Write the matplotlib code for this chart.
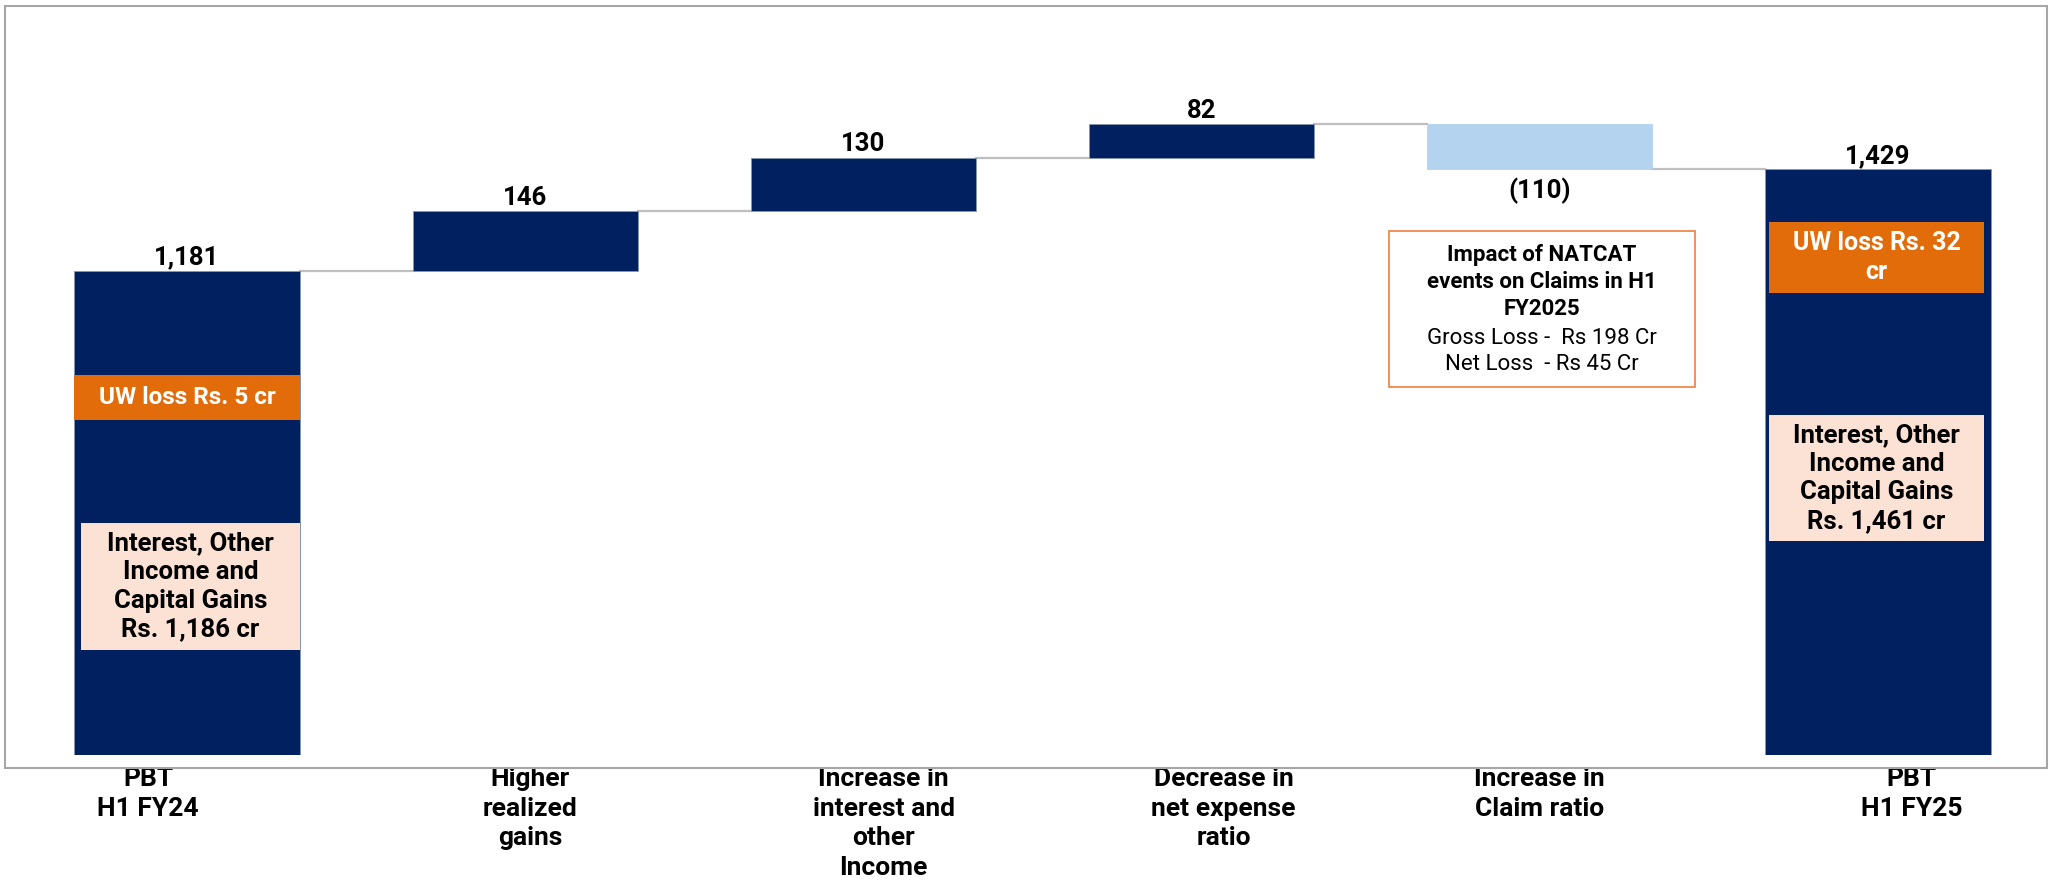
import matplotlib.pyplot as plt
from matplotlib.patches import Rectangle

plt.rcParams['font.family'] = ['Roboto', 'DejaVu Sans']

# data
categories = ["PBT\nH1 FY24", "Higher\nrealized\ngains", "Increase in\ninterest and\nother\nIncome",
              "Decrease in\nnet expense\nratio", "Increase in\nClaim ratio", "PBT\nH1 FY25"]
values = [1181, 146, 130, 82, -110, 1429]
is_total = [True, False, False, False, False, True]

uw_loss = ["UW loss Rs. 5 cr", "UW loss Rs. 32\ncr"]
income_note = ["Interest, Other\nIncome and\nCapital Gains\nRs. 1,186 cr",
               "Interest, Other\nIncome and\nCapital Gains\nRs. 1,461 cr"]
natcat_title = "Impact of NATCAT\nevents on Claims in H1\nFY2025"
natcat_body = "Gross Loss -  Rs 198 Cr\nNet Loss  - Rs 45 Cr"

NAVY = "#002060"
LIGHT = "#B3D3EE"
ORANGE = "#E36C0A"
PEACH = "#FBE2D5"
GREY = "#BFBFBF"
HEAVY = "bold"

fig = plt.figure(figsize=(20.51, 8.88), dpi=100)
ax = fig.add_axes([18 / 2051, 133 / 888, 2029 / 2051, 738 / 888])

w = 0.666
bottoms, tops = [], []
run = 0
for v, tot in zip(values, is_total):
    if tot:
        b, t = 0, v
        run = v
    else:
        b, t = (run, run + v) if v > 0 else (run + v, run)
        run += v
    bottoms.append(b)
    tops.append(t)

for i, v in enumerate(values):
    col = LIGHT if v < 0 else NAVY
    ax.bar(i, tops[i] - bottoms[i], bottom=bottoms[i], width=w, color=col,
           edgecolor="#8497B0" if v > 0 else LIGHT, linewidth=0.6, zorder=2)
    if v < 0:
        ax.annotate(f"({abs(v):,})", (i, bottoms[i]), xytext=(0, -6), textcoords="offset points",
                    ha="center", va="top", fontsize=18.5, fontweight=HEAVY)
    else:
        ax.annotate(f"{v:,}", (i, tops[i]), xytext=(0, 1), textcoords="offset points",
                    ha="center", va="bottom", fontsize=18.5, fontweight=HEAVY)

# connectors
run = 0
for i, v in enumerate(values[:-1]):
    run = v if is_total[i] else run + v
    ax.plot([i + w / 2, i + 1 - w / 2], [run, run], color=GREY, lw=1.6, zorder=1)

# category labels
label_dx = [-0.115, 0.015, 0.06, 0.065, 0.0, 0.1]
for i, lab in enumerate(categories):
    ax.text(i + label_dx[i], -0.016, lab, transform=ax.get_xaxis_transform(), ha="center", va="top",
            fontsize=19, fontweight=HEAVY, linespacing=1.3)

# in-bar notes
def box(x0, x1, y0, y1, fc, text, tc, size, ec="none", lw=0):
    ax.add_patch(Rectangle((x0, y0), x1 - x0, y1 - y0, facecolor=fc, edgecolor=ec, lw=lw, zorder=3))
    if text:
        ax.text((x0 + x1) / 2, (y0 + y1) / 2, text, ha="center", va="center", color=tc,
                fontsize=size, fontweight=HEAVY, linespacing=1.25, zorder=4)

box(-w / 2, w / 2, 817, 927, ORANGE, uw_loss[0], "white", 17.5)
box(-w / 2 + 0.02, w / 2, 256, 566, PEACH, income_note[0], "black", 18.5)
box(5 - w / 2 + 0.012, 5 + w / 2 - 0.02, 1127, 1300, ORANGE, uw_loss[1], "white", 18)
box(5 - w / 2 + 0.012, 5 + w / 2 - 0.02, 522, 829, PEACH, income_note[1], "black", 18.5)

# NATCAT note
box(3.554, 4.459, 898, 1278, "white", None, None, 0, ec="#F0884A", lw=1.3)
ax.text(4.006, 1154, natcat_title, ha="center", va="center", fontsize=16, fontweight=HEAVY,
        linespacing=1.3, zorder=4)
ax.text(4.006, 984, natcat_body, ha="center", va="center", fontsize=16,
        linespacing=1.3, zorder=4)

ax.set_xlim(-0.5, 5.5)
ax.set_ylim(0, 1800)
ax.axis("off")

# chart frame
fig.add_artist(Rectangle((5 / 2051, 120 / 888), 2042 / 2051, 762 / 888, transform=fig.transFigure,
                         fill=False, edgecolor="#A6A6A6", lw=1.5))

fig.savefig("out.png", dpi=100)
